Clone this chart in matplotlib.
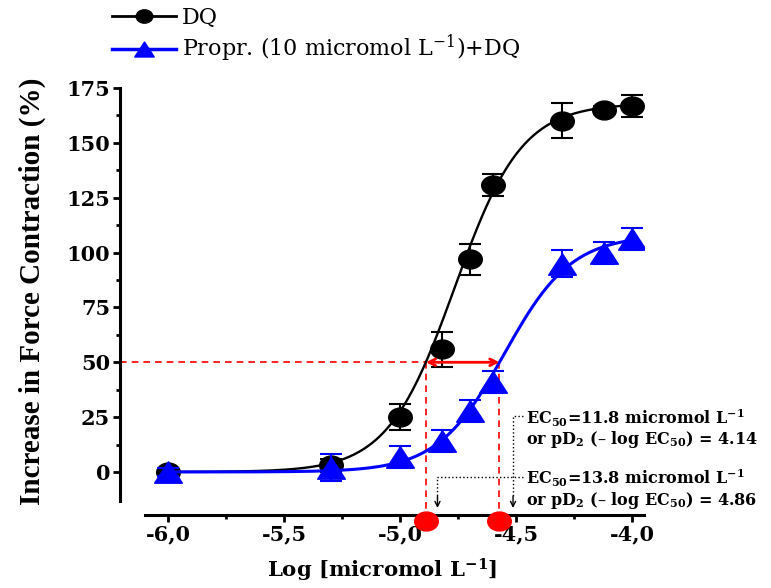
import numpy as np
import matplotlib
matplotlib.use("Agg")
import matplotlib.pyplot as plt
from matplotlib.lines import Line2D
from matplotlib.path import Path
from matplotlib.transforms import Affine2D
from matplotlib.ticker import FixedLocator

plt.rcParams['mathtext.fontset'] = 'dejavuserif'

# log concentration of DQ (mol/L)
log_conc = [-6.0, -5.3, -5.0, -4.82, -4.7, -4.6, -4.3, -4.12, -4.0]

# DQ alone
dq_mean = [0, 3, 25, 56, 97, 131, 160, 165, 167]
dq_err = [2, 3, 6, 8, 7, 5, 8, 2, 5]

# propranolol (10 micromol/L) + DQ
prop_mean = [0, 2, 7, 14, 28, 41, 95, 100, 106]
prop_err = [2, 6, 5, 5, 5, 5, 6, 5, 5]

# fitted sigmoid parameters (top, log EC50, Hill slope)
dq_fit = (168, -4.765, 3.0)
prop_fit = (108, -4.55, 3.0)

yticks = [0, 25, 50, 75, 100, 125, 150, 175]
xticks = [-6.0, -5.5, -5.0, -4.5, -4.0]
xtick_labels = ['-6,0', '-5,5', '-5,0', '-4,5', '-4,0']


def hill(lx, top, lec, n):
    return top / (1 + 10 ** ((lec - lx) * n))


def half_point(top, lec, n, level=50):
    return lec - np.log10(top / level - 1) / n


# stretched markers, the original figure is a bit wider than tall
ellipse = Path.unit_circle().transformed(Affine2D().scale(1.25, 1.0))
tri = Path([(0, 0.77), (-1, -0.77), (1, -0.77), (0, 0.77)],
           [Path.MOVETO, Path.LINETO, Path.LINETO, Path.CLOSEPOLY])

bold = dict(family='DejaVu Serif', weight='bold')

fig = plt.figure(figsize=(7.71, 5.88), dpi=100)
ax = fig.add_axes([120 / 771, 1 - 515 / 588, 524 / 771, (515 - 88) / 588])

xs = np.linspace(-6.0, -4.0, 300)
ax.plot(xs, hill(xs, *dq_fit), color='black', lw=1.7, zorder=3)
ax.errorbar(log_conc, dq_mean, yerr=dq_err, fmt='none', ecolor='black',
            elinewidth=1.5, capsize=8, capthick=1.5, zorder=3)
ax.plot(log_conc, dq_mean, ls='none', marker=ellipse, ms=17, color='black', zorder=4)

ax.plot(xs, hill(xs, *prop_fit), color='#0000ff', lw=2.2, zorder=5)
ax.errorbar(log_conc, prop_mean, yerr=prop_err, fmt='none', ecolor='#0000ff',
            elinewidth=1.5, capsize=8, capthick=1.5, zorder=5)
ax.plot(log_conc, prop_mean, ls='none', marker=tri, ms=20, color='#0000ff', zorder=6)

ax.set_xlim(-6.2087, -3.948)
ax.set_ylim(-19.6, 175)

# EC50 construction
x1 = half_point(*dq_fit)
x2 = half_point(*prop_fit)
ybot = -19.6
ax.plot([-6.2087, x1], [50, 50], color='red', lw=1.2, ls=(0, (4, 3)), zorder=2)
for xv in (x1, x2):
    ax.plot([xv, xv], [50, ybot], color='red', lw=1.2, ls=(0, (4, 3)), zorder=2)
ax.plot([x1, x2], [-22.3, -22.3], ls='none', marker=ellipse, ms=17,
        color='red', clip_on=False, zorder=7)
ax.annotate('', xy=(x2, 50), xytext=(x1, 50),
            arrowprops=dict(arrowstyle='<->', color='red', lw=2.0,
                            mutation_scale=12, shrinkA=0, shrinkB=0), zorder=6)

# dotted pointers to the axis
xa, xb = -4.513, -4.839
ax.plot([-4.47, xa, xa], [25.5, 25.5, -12], color='black', lw=1.0, ls=':', zorder=2)
ax.plot([-4.47, xb, xb], [-2.1, -2.1, -12], color='black', lw=1.0, ls=':', zorder=2)
for xv in (xa, xb):
    ax.annotate('', xy=(xv, -16.4), xytext=(xv, -11),
                arrowprops=dict(arrowstyle='->', color='black', lw=1.0,
                                mutation_scale=9, shrinkA=0, shrinkB=0))

tx = -4.455
ax.text(tx, 24.6, r'EC$_\mathbf{50}$=11.8 micromol L$^\mathbf{-1}$', fontsize=11.5,
        ha='left', va='center', **bold)
ax.text(tx, 14.6, r'or pD$_\mathbf{2}$ (– log EC$_\mathbf{50}$) = 4.14', fontsize=11.5,
        ha='left', va='center', **bold)
ax.text(tx, -2.7, r'EC$_\mathbf{50}$=13.8 micromol L$^\mathbf{-1}$', fontsize=11.5,
        ha='left', va='center', **bold)
ax.text(tx, -12.8, r'or pD$_\mathbf{2}$ (– log EC$_\mathbf{50}$) = 4.86', fontsize=11.5,
        ha='left', va='center', **bold)

# axes styling
for s in ('top', 'right'):
    ax.spines[s].set_visible(False)
ax.spines['left'].set_linewidth(2.2)
ax.spines['bottom'].set_linewidth(2.2)
ax.spines['left'].set_bounds(-13, 175)
ax.spines['bottom'].set_bounds(-6.1, -3.948)

ax.yaxis.set_major_locator(FixedLocator(yticks))
ax.yaxis.set_minor_locator(FixedLocator(np.arange(12.5, 175, 25)))
ax.set_yticklabels([str(v) for v in yticks])
ax.xaxis.set_major_locator(FixedLocator(xticks))
ax.xaxis.set_minor_locator(FixedLocator([-5.75, -5.25, -4.75, -4.25]))
ax.set_xticklabels(xtick_labels)
ax.tick_params(which='major', direction='out', length=5, width=2, pad=2)
ax.tick_params(which='minor', direction='out', length=3, width=2)
for lab in ax.get_xticklabels() + ax.get_yticklabels():
    lab.set_fontfamily('DejaVu Serif')
    lab.set_fontweight('bold')
    lab.set_fontsize(15)

ax.set_ylabel('Increase in Force Contraction (%)', family='Liberation Serif',
              weight='bold', fontsize=21)
ax.yaxis.set_label_coords(-(120 - 46) / 524, (515 - 291) / 427)
ax.set_xlabel(r'Log [micromol L$^\mathbf{-1}$]', fontsize=15.3, **bold)
ax.xaxis.set_label_coords(0.5, -(557 - 515) / 427)

handles = [
    Line2D([], [], color='black', lw=2, marker=ellipse, ms=12),
    Line2D([], [], color='#0000ff', lw=2.5, marker=tri, ms=14),
]
labels = ['DQ', r'Propr. (10 micromol L$^{-1}$)+DQ']
fig.legend(handles, labels, loc='upper left', bbox_to_anchor=(112 / 771, 1 - 7 / 588),
           frameon=False, prop=dict(family='DejaVu Serif', size=16),
           handlelength=2.9, handletextpad=0.25, labelspacing=0.18,
           borderpad=0, borderaxespad=0)

fig.savefig('out.png', dpi=100)
